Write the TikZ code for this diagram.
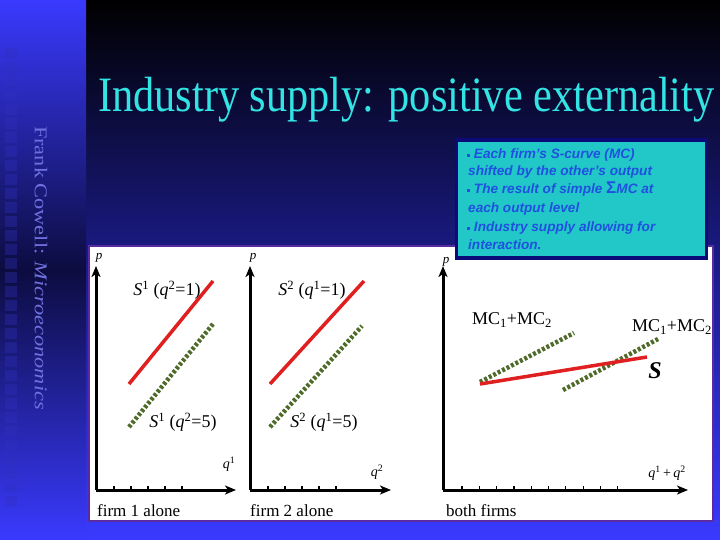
\documentclass[tikz,border=0pt]{standalone}
\usepackage{fontspec}
\setmainfont{Liberation Serif}
\newfontfamily\boxfont{Liberation Sans}
\usetikzlibrary{arrows.meta}
\definecolor{bgblue}{HTML}{3A3AFF}
\definecolor{bgnavy}{HTML}{1C1C8C}
\definecolor{stripdark}{HTML}{0C0C40}
\definecolor{sqcol}{HTML}{3030C0}
\definecolor{titlecyan}{HTML}{33E4E4}
\definecolor{vtext}{HTML}{7070E0}
\definecolor{panelborder}{HTML}{5A2AA0}
\definecolor{boxfill}{HTML}{22C8C8}
\definecolor{boxborder}{HTML}{0A0A78}
\definecolor{boxtext}{HTML}{2050E0}
\definecolor{curvered}{HTML}{E02020}
\definecolor{curvegreen}{HTML}{4F6B2A}
\newcommand\sqb{\raisebox{2pt}{\rule{3pt}{3pt}}\ }
\begin{document}
\begin{tikzpicture}[x=1pt,y=-1pt,
  axis/.style={line width=3pt,-{Stealth[length=11pt,width=9pt,inset=3pt]}},
  tick/.style={line width=1.2pt},
  redline/.style={curvered,line width=3.5pt},
  greenline/.style={curvegreen,line width=4.5pt,dash pattern=on 3pt off 2pt},
  lbl/.style={font=\fontsize{18}{18}\selectfont},
  axlbl/.style={font=\fontsize{14}{14}\selectfont\itshape},
  plbl/.style={font=\fontsize{13}{13}\selectfont\itshape},
  boxline/.style={anchor=base west,text=boxtext,font=\boxfont\fontsize{13.6}{13.6}\selectfont\bfseries\itshape,inner sep=0pt},
  botlbl/.style={anchor=base west,font=\fontsize{17}{17}\selectfont,inner sep=0pt}]
\useasboundingbox (0,0) rectangle (720,540);
\clip (0,0) rectangle (720,540);
% background
\shade[top color=black,bottom color=bgblue,middle color=bgnavy] (0,0) rectangle (720,540);
\shade[top color=bgblue,bottom color=bgblue,middle color=stripdark] (0,0) rectangle (86,540);
\foreach \i in {0,...,32} \fill[sqcol,opacity=.35] (5,48+14*\i) rectangle +(12,11);
% author text
\node[rotate=-90,text=vtext,font=\fontsize{18}{18}\selectfont,inner sep=0pt] (author) at (41,268)
  {\scalebox{1.24}[1]{Frank Cowell: \textit{Microeconomics}}};
% title
\node[anchor=base west,text=titlecyan,font=\fontsize{43}{43}\selectfont,inner sep=0pt] (title) at (98,112)
  {\scalebox{0.985}[1.15]{Industry supply: positive externality}};
% panel
\fill[white,draw=panelborder,line width=1.5pt] (89,246) rectangle (713,521);
% text box
\node[draw=boxborder,line width=3.5pt,fill=boxfill,minimum width=250pt,minimum height=118pt,inner sep=0pt] (box) at (581.5,199) {};
\node[boxline] (l1) at (467,159) {\sqb Each firm’s S-curve (MC)};
\node[boxline] (l2) at (468,176) {shifted by the other’s output};
\node[boxline] (l3) at (467,194) {\sqb The result of simple {\fontsize{17}{17}\selectfont\upshape Σ}MC at};
\node[boxline] (l4) at (468,212) {each output level};
\node[boxline] (l5) at (467,232) {\sqb Industry supply allowing for};
\node[boxline] (l6) at (468,249) {interaction.};
% axes coordinates
\coordinate (o1) at (96,490);  \coordinate (y1) at (96,266);  \coordinate (x1) at (236,490);
\coordinate (o2) at (250,490); \coordinate (y2) at (250,266); \coordinate (x2) at (391,490);
\coordinate (o3) at (443,490); \coordinate (y3) at (443,266); \coordinate (x3) at (688,490);
\draw[axis] (o1) -- (y1); \draw[axis] (o1) -- (x1);
\draw[axis] (o2) -- (y2); \draw[axis] (o2) -- (x2);
\draw[axis] (o3) -- (y3); \draw[axis] (o3) -- (x3);
\foreach \t in {0,...,4} \draw[tick] (114+17*\t,490) -- ++(0,-4);
\foreach \t in {0,...,4} \draw[tick] (268+17*\t,490) -- ++(0,-4);
\foreach \t in {0,...,9} \draw[tick] (462+17.3*\t,490) -- ++(0,-4);
% axis labels
\node[plbl] (p1) at (99,258) {p};
\node[plbl] (p2) at (253,258) {p};
\node[plbl] (p3) at (446,262) {p};
\node[axlbl] (q1) at (229,464) {q\textsuperscript{\upshape 1}};
\node[axlbl] (q2) at (377,472) {q\textsuperscript{\upshape 2}};
\node[axlbl] (q12) at (667,473) {q\textsuperscript{\upshape 1}\upshape\,+\,\itshape q\textsuperscript{\upshape 2}};
% bottom labels
\node[botlbl] (f1) at (97,516) {firm 1 alone};
\node[botlbl] (f2) at (250,516) {firm 2 alone};
\node[botlbl] (f3) at (446,516) {both firms};
% panel 1 curves
\coordinate (a1) at (129,384); \coordinate (a2) at (213,281);
\coordinate (b1) at (129,427); \coordinate (b2) at (213,324);
\draw[redline] (a1) -- (a2);
\draw[greenline] (b1) -- (b2);
\node[lbl] (s11) at (167,290) {\textit{S}\textsuperscript{1} (\textit{q}\textsuperscript{2}=1)};
\node[lbl] (s15) at (183,422) {\textit{S}\textsuperscript{1} (\textit{q}\textsuperscript{2}=5)};
% panel 2 curves
\coordinate (c1) at (270,384); \coordinate (c2) at (364,281);
\coordinate (d1) at (270,427); \coordinate (d2) at (362,326);
\draw[redline] (c1) -- (c2);
\draw[greenline] (d1) -- (d2);
\node[lbl] (s21) at (312,290) {\textit{S}\textsuperscript{2} (\textit{q}\textsuperscript{1}=1)};
\node[lbl] (s25) at (324,422) {\textit{S}\textsuperscript{2} (\textit{q}\textsuperscript{1}=5)};
% panel 3 curves
\coordinate (e1) at (480,382); \coordinate (e2) at (574,333);
\coordinate (g1) at (563,390); \coordinate (g2) at (658,339);
\coordinate (h1) at (480,384); \coordinate (h2) at (647,357);
\draw[greenline] (e1) -- (e2);
\draw[greenline] (g1) -- (g2);
\draw[redline] (h1) -- (h2);
\node[lbl] (mc1) at (512,320) {MC\textsubscript{1}+MC\textsubscript{2}};
\node[lbl] (mc2) at (672,327) {MC\textsubscript{1}+MC\textsubscript{2}};
\node[font=\fontsize{24}{24}\selectfont\bfseries\itshape] (S) at (655,371) {S};
\end{tikzpicture}
\end{document}
